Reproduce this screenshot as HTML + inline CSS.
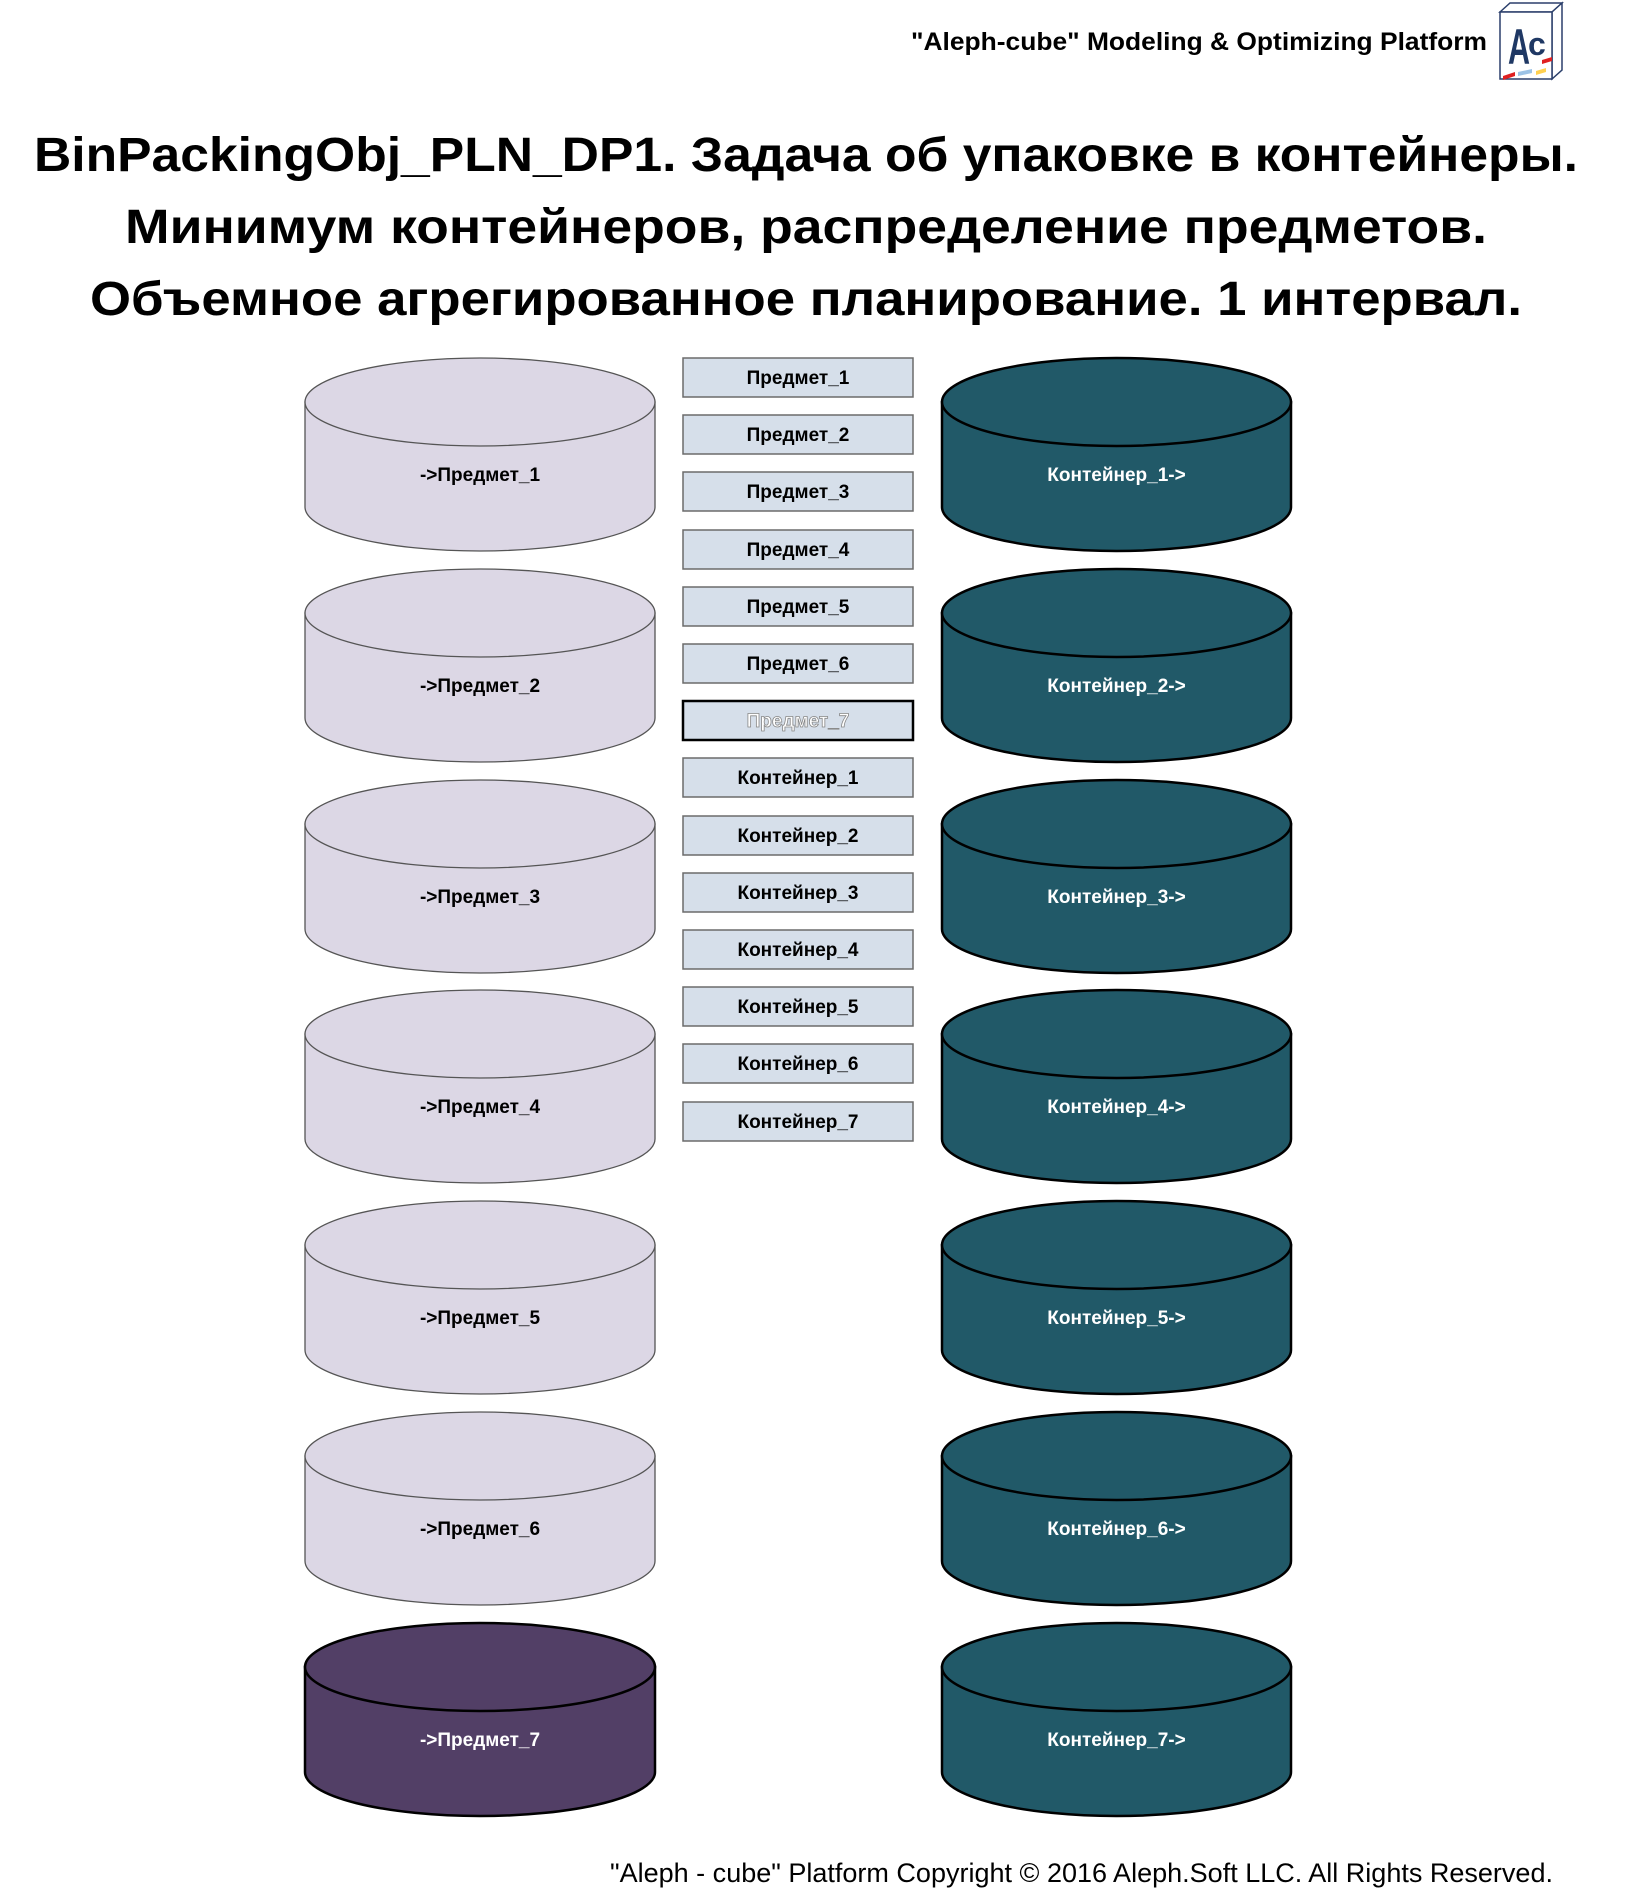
<!DOCTYPE html>
<html><head><meta charset="utf-8"><style>
html,body{margin:0;padding:0;background:#fff;}
svg{display:block}
text{font-family:"Liberation Sans","DejaVu Sans",sans-serif;}
.l{fill:#dcd7e5;stroke:#555;stroke-width:1.3}
.p{fill:#523f66;stroke:#000;stroke-width:2.5}
.d{fill:#215968;stroke:#000;stroke-width:2.5}
.ct{font-size:19px;font-weight:bold;text-anchor:middle}
.bx rect{fill:#d6dfea;stroke:#6b6b6b;stroke-width:1.5}
</style></head><body>
<svg width="1630" height="1900" viewBox="0 0 1630 1900" xmlns="http://www.w3.org/2000/svg">
<defs>
<g id="L"><path d="M305,44 L305,149 A175,44 0 0 0 655,149 L655,44 Z"/><ellipse cx="480" cy="44" rx="175" ry="44"/></g>
<g id="R"><path d="M942,44 L942,149 A174.5,44 0 0 0 1291,149 L1291,44 Z"/><ellipse cx="1116.5" cy="44" rx="174.5" ry="44"/></g>
</defs>
<text x="911" y="50" font-size="25" font-weight="bold" textLength="576" lengthAdjust="spacingAndGlyphs">"Aleph-cube" Modeling &amp; Optimizing Platform</text>
<g>
<polygon points="1500,12 1510,3 1562,3 1552,12" fill="#fff" stroke="#2b3f6b" stroke-width="1.5"/>
<polygon points="1552,12 1562,3 1562,70 1552,79" fill="#fff" stroke="#2b3f6b" stroke-width="1.5"/>
<rect x="1500" y="12" width="52" height="67" fill="#fff" stroke="#2b3f6b" stroke-width="1.5"/>
<text x="1508" y="64" font-size="50" font-family="Liberation Serif" fill="#1f3864" font-weight="bold" textLength="22" lengthAdjust="spacingAndGlyphs">A</text>
<text x="1528" y="55" font-size="32" fill="#1f3864" font-weight="bold">c</text>
<polygon points="1503,76 1515,72 1515,76 1503,80" fill="#e02020"/>
<polygon points="1518,72 1532,69 1532,73 1518,76" fill="#9dc3e6"/>
<polygon points="1536,71 1546,68 1546,72 1536,75" fill="#ffd050"/>
<polygon points="1542,60 1552,57 1552,61 1542,64" fill="#e02020"/>
</g>
<g font-weight="bold" font-size="48" text-anchor="middle" fill="#000">
<text x="806" y="171" textLength="1544" lengthAdjust="spacingAndGlyphs">BinPackingObj_PLN_DP1. Задача об упаковке в контейнеры.</text>
<text x="806" y="243" textLength="1362" lengthAdjust="spacingAndGlyphs">Минимум контейнеров, распределение предметов.</text>
<text x="806" y="315" textLength="1432" lengthAdjust="spacingAndGlyphs">Объемное агрегированное планирование. 1 интервал.</text>
</g>

<use class="l" href="#L" y="358"/><use class="l" href="#L" y="569"/><use class="l" href="#L" y="780"/><use class="l" href="#L" y="990"/><use class="l" href="#L" y="1201"/><use class="l" href="#L" y="1412"/>
<use class="p" href="#L" y="1623"/>
<use class="d" href="#R" y="358"/><use class="d" href="#R" y="569"/><use class="d" href="#R" y="780"/><use class="d" href="#R" y="990"/><use class="d" href="#R" y="1201"/><use class="d" href="#R" y="1412"/><use class="d" href="#R" y="1623"/>

<g class="ct" fill="#000">
<text x="480" y="481">-&gt;Предмет_1</text>
<text x="480" y="692">-&gt;Предмет_2</text>
<text x="480" y="903">-&gt;Предмет_3</text>
<text x="480" y="1113">-&gt;Предмет_4</text>
<text x="480" y="1324">-&gt;Предмет_5</text>
<text x="480" y="1535">-&gt;Предмет_6</text>
</g>
<g class="ct" fill="#fff">
<text x="480" y="1746">-&gt;Предмет_7</text>
<text x="1116.5" y="481">Контейнер_1-&gt;</text>
<text x="1116.5" y="692">Контейнер_2-&gt;</text>
<text x="1116.5" y="903">Контейнер_3-&gt;</text>
<text x="1116.5" y="1113">Контейнер_4-&gt;</text>
<text x="1116.5" y="1324">Контейнер_5-&gt;</text>
<text x="1116.5" y="1535">Контейнер_6-&gt;</text>
<text x="1116.5" y="1746">Контейнер_7-&gt;</text>
</g>

<g class="bx">
<rect x="683" y="358" width="230" height="39"/>
<rect x="683" y="415" width="230" height="39"/>
<rect x="683" y="472" width="230" height="39"/>
<rect x="683" y="530" width="230" height="39"/>
<rect x="683" y="587" width="230" height="39"/>
<rect x="683" y="644" width="230" height="39"/>
<rect x="683" y="701" width="230" height="39" style="stroke:#000;stroke-width:2.5"/>
<rect x="683" y="758" width="230" height="39"/>
<rect x="683" y="816" width="230" height="39"/>
<rect x="683" y="873" width="230" height="39"/>
<rect x="683" y="930" width="230" height="39"/>
<rect x="683" y="987" width="230" height="39"/>
<rect x="683" y="1044" width="230" height="39"/>
<rect x="683" y="1102" width="230" height="39"/>
</g>
<g class="ct" fill="#000">
<text x="798" y="384">Предмет_1</text>
<text x="798" y="441">Предмет_2</text>
<text x="798" y="498">Предмет_3</text>
<text x="798" y="556">Предмет_4</text>
<text x="798" y="613">Предмет_5</text>
<text x="798" y="670">Предмет_6</text>
<text x="798" y="727" fill="#fff" stroke="#888" stroke-width="0.8">Предмет_7</text>
<text x="798" y="784">Контейнер_1</text>
<text x="798" y="842">Контейнер_2</text>
<text x="798" y="899">Контейнер_3</text>
<text x="798" y="956">Контейнер_4</text>
<text x="798" y="1013">Контейнер_5</text>
<text x="798" y="1070">Контейнер_6</text>
<text x="798" y="1128">Контейнер_7</text>
</g>

<text x="610" y="1882" font-size="27" textLength="943" lengthAdjust="spacingAndGlyphs">"Aleph - cube" Platform Copyright © 2016 Aleph.Soft LLC. All Rights Reserved.</text>
</svg>
</body></html>
